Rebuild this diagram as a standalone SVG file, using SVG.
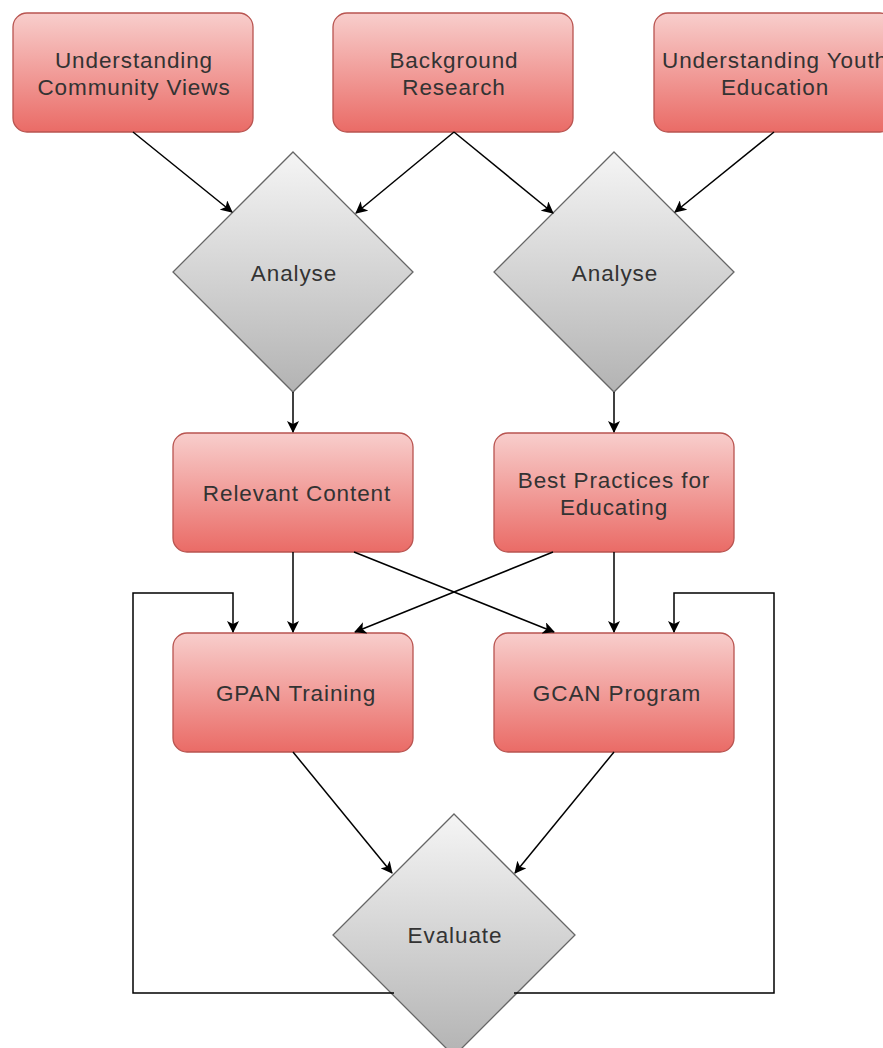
<svg xmlns="http://www.w3.org/2000/svg" width="883" height="1048" viewBox="0 0 883 1048">
<defs>
<linearGradient id="gr" x1="0" y1="0" x2="0" y2="1"><stop offset="0" stop-color="#f8cecc"/><stop offset="1" stop-color="#ea6b66"/></linearGradient>
<linearGradient id="gg" x1="0" y1="0" x2="0" y2="1"><stop offset="0" stop-color="#f5f5f5"/><stop offset="1" stop-color="#b3b3b3"/></linearGradient>
<marker id="ar" viewBox="0 0 12 12" refX="11" refY="6" markerWidth="12" markerHeight="12" markerUnits="userSpaceOnUse" orient="auto"><path d="M0,0 L12,6 L0,12 L3,6 Z" fill="#000"/></marker>
<style>
.box{fill:url(#gr);stroke:#b85450;stroke-width:1.3}
.dia{fill:url(#gg);stroke:#666666;stroke-width:1.3}
.t{font-family:"Liberation Sans",Arial,sans-serif;font-size:22.5px;letter-spacing:0.9px;fill:#333;text-anchor:middle}
.c{fill:none;stroke:#000;stroke-width:1.5;marker-end:url(#ar)}
</style>
</defs>
<g id="n1"><rect class="box" x="13" y="13" width="240" height="119" rx="14"/><text class="t" x="134" y="68">Understanding</text><text class="t" x="134" y="95">Community Views</text></g>
<g id="n2"><rect class="box" x="333" y="13" width="240" height="119" rx="14"/><text class="t" x="454" y="68">Background</text><text class="t" x="454" y="95">Research</text></g>
<g id="n3"><rect class="box" x="654" y="13" width="240" height="119" rx="14"/><text class="t" x="775" y="68">Understanding Youth</text><text class="t" x="775" y="95">Education</text></g>
<g id="d1"><polygon class="dia" points="293,152 413,272 293,392 173,272"/><text class="t" x="294" y="281">Analyse</text></g>
<g id="d2"><polygon class="dia" points="614,152 734,272 614,392 494,272"/><text class="t" x="615" y="281">Analyse</text></g>
<g id="n4"><rect class="box" x="173" y="433" width="240" height="119" rx="14"/><text class="t" x="297" y="501">Relevant Content</text></g>
<g id="n5"><rect class="box" x="494" y="433" width="240" height="119" rx="14"/><text class="t" x="614" y="488">Best Practices for</text><text class="t" x="614" y="515">Educating</text></g>
<g id="n6"><rect class="box" x="173" y="633" width="240" height="119" rx="14"/><text class="t" x="296" y="701">GPAN Training</text></g>
<g id="n7"><rect class="box" x="494" y="633" width="240" height="119" rx="14"/><text class="t" x="617" y="701">GCAN Program</text></g>
<g id="d3"><polygon class="dia" points="454,814 575,935 454,1056 333,935"/><text class="t" x="455" y="943">Evaluate</text></g>
<g id="connectors">
<line class="c" x1="133" y1="132" x2="232" y2="212"/>
<line class="c" x1="454" y1="132" x2="356" y2="213"/>
<line class="c" x1="454" y1="132" x2="553" y2="213"/>
<line class="c" x1="774" y1="132" x2="675" y2="212"/>
<line class="c" x1="293" y1="392" x2="293" y2="432"/>
<line class="c" x1="614" y1="392" x2="614" y2="432"/>
<line class="c" x1="293" y1="552" x2="293" y2="632"/>
<line class="c" x1="354" y1="552" x2="554" y2="632"/>
<line class="c" x1="553" y1="552" x2="355" y2="632"/>
<line class="c" x1="614" y1="552" x2="614" y2="632"/>
<line class="c" x1="293" y1="752" x2="392" y2="873"/>
<line class="c" x1="614" y1="752" x2="515" y2="873"/>
<polyline class="c" points="394,993 133,993 133,593 233,593 233,632"/>
<polyline class="c" points="514,993 774,993 774,593 674,593 674,632"/>
</g>
</svg>
